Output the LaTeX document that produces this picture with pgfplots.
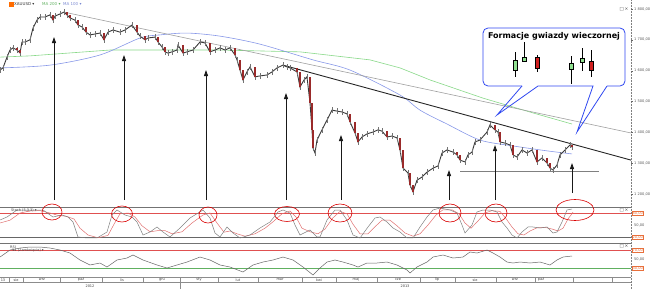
\documentclass[border=0pt]{standalone}
\usepackage{pgfplots}
\pgfplotsset{compat=1.18}
\usepackage{fontspec}
\setmainfont{DejaVu Sans}
\usetikzlibrary{arrows.meta}
\definecolor{pricec}{HTML}{3A3A3A}
\definecolor{maone}{HTML}{8898E8}
\definecolor{matwo}{HTML}{88D888}
\definecolor{trendg}{HTML}{A0A0A0}
\definecolor{stk}{HTML}{808080}
\definecolor{std}{HTML}{E07070}
\definecolor{lvlred}{HTML}{E05050}
\definecolor{lvlgreen}{HTML}{60B060}
\definecolor{boxc}{HTML}{E8703C}
\definecolor{callout}{HTML}{3048F0}
\definecolor{cgreen}{HTML}{90E090}
\definecolor{cred}{HTML}{D02020}
\definecolor{candred}{HTML}{9A2A2A}
\begin{document}
\begin{tikzpicture}
\useasboundingbox (0pt,0pt) rectangle (653pt,-289pt);
\pgfplotsset{every axis/.append style={scale only axis, width=631pt, xmin=0, xmax=631,
  anchor=north west, axis line style={draw=none}, xtick=\empty, ytick=\empty}}
% ---------------- price panel ----------------
\begin{axis}[at={(0pt,0pt)}, height=203pt, ymin=1170.87, ymax=1829.2]
% MA 200
\addplot[matwo, line width=0.6pt] coordinates {(0,1644) (30,1648) (110,1667) (220,1667) (300,1661) (370,1635) (400,1609) (430,1570) (483,1511) (533,1463) (572,1427)};
% MA 100
\addplot[maone, line width=0.6pt, smooth] coordinates {(0,1609) (50,1618) (100,1651) (140,1706) (160,1716) (187,1722) (220,1712) (260,1686) (313,1635) (350,1602) (400,1521) (420,1472) (447,1427) (480,1375) (513,1356) (547,1340) (572,1330)};
% trend lines
\addplot[trendg, line width=0.6pt] coordinates {(64,1790) (631,1398)};
\addplot[black!85, line width=0.9pt] coordinates {(283,1618) (631,1310)};
\addplot[black!50, line width=0.6pt] coordinates {(460,1275) (599,1275)};
% price (closes) with high-low wicks
\addplot[pricec, line width=0.9pt, error bars/.cd, y dir=both, y fixed=9,
  error mark=none, error bar style={black!55, line width=0.6pt}] coordinates {
(0,1602) (3,1609) (7,1644) (10,1667) (13,1674) (17,1667) (20,1657) (22,1693) (25,1693) (30,1700)
(33,1738) (37,1764) (40,1774) (45,1774) (50,1781) (53,1764) (55,1777) (60,1784) (64,1790) (67,1781)
(70,1771) (75,1764) (78,1748) (82,1742) (86,1725) (90,1716) (95,1719) (100,1722) (104,1700) (108,1725)
(113,1732) (120,1725) (125,1732) (132,1748) (137,1725) (140,1712) (145,1700) (148,1706) (155,1709) (158,1693)
(162,1677) (165,1661) (168,1657) (172,1661) (177,1667) (178,1683) (183,1657) (187,1661) (193,1667) (200,1693)
(205,1690) (210,1661) (215,1667) (220,1674) (225,1667) (230,1674) (235,1651) (237,1635) (240,1602) (243,1570)
(247,1596) (250,1612) (255,1580) (260,1583) (267,1586) (272,1596) (277,1609) (283,1618) (287,1612) (290,1609)
(297,1596) (300,1547) (304,1570) (307,1580) (310,1495) (312,1408) (313,1349) (315,1333) (317,1375) (322,1408)
(327,1440) (332,1472) (337,1469) (342,1466) (347,1460) (350,1434) (355,1398) (358,1369) (362,1385) (367,1395)
(373,1401) (378,1408) (382,1404) (387,1385) (392,1388) (397,1382) (400,1343) (403,1284) (408,1268) (410,1229)
(413,1207) (417,1245) (422,1255) (427,1271) (433,1284) (438,1291) (442,1333) (447,1343) (453,1336) (457,1327)
(460,1310) (465,1304) (468,1327) (472,1336) (475,1369) (480,1375) (487,1401) (490,1424) (495,1408) (498,1401)
(500,1369) (505,1365) (510,1359) (513,1327) (517,1320) (522,1343) (527,1333) (532,1343) (537,1304) (542,1317)
(547,1301) (550,1284) (553,1278) (557,1294) (560,1327) (565,1343) (570,1359) (572,1352)};
% down-candle bodies (open at previous close, close below it)
\addplot[draw=none, mark=none, error bars/.cd, y dir=plus, y explicit, error mark=none,
  error bar style={candred, line width=1.6pt}] coordinates {
(17,1667) +- (0,7) (20,1657) +- (0,10) (53,1764) +- (0,17) (67,1781) +- (0,9) (70,1771) +- (0,10)
(78,1748) +- (0,16) (86,1725) +- (0,17) (104,1700) +- (0,22) (137,1725) +- (0,23) (145,1700) +- (0,12)
(158,1693) +- (0,16) (165,1661) +- (0,16) (183,1657) +- (0,26) (210,1661) +- (0,29) (235,1651) +- (0,23)
(240,1602) +- (0,33) (243,1570) +- (0,32) (255,1580) +- (0,32) (297,1596) +- (0,13) (300,1547) +- (0,49)
(310,1495) +- (0,85) (312,1408) +- (0,87) (313,1349) +- (0,59) (350,1434) +- (0,26) (355,1398) +- (0,36)
(358,1369) +- (0,29) (387,1385) +- (0,19) (400,1343) +- (0,39) (403,1284) +- (0,59) (410,1229) +- (0,39)
(413,1207) +- (0,22) (457,1327) +- (0,9) (460,1310) +- (0,17) (495,1408) +- (0,16) (500,1369) +- (0,32)
(513,1327) +- (0,32) (537,1304) +- (0,39) (547,1301) +- (0,16) (550,1284) +- (0,17) (572,1352) +- (0,7)};
\end{axis}
% ---------------- stochastic panel ----------------
\begin{axis}[at={(0pt,-207pt)}, height=36pt, ymin=5, ymax=95]
\draw[lvlred, line width=0.6pt] (axis cs:0,80) -- (axis cs:631,80);
\draw[black!60, line width=0.6pt] (axis cs:0,20) -- (axis cs:631,20);
\addplot[std, line width=0.5pt] coordinates {
(0,55) (10,62) (20,80) (30,85) (40,86) (50,80) (58,74) (66,72) (74,65) (80,42) (88,25) (98,18) (108,24)
(114,52) (120,78) (128,80) (135,70) (142,48) (150,33) (158,36) (165,36) (172,28) (182,33) (192,55) (203,75)
(210,80) (217,55) (224,32) (230,35) (237,28) (245,22) (255,28) (265,42) (273,58) (282,78) (290,85) (296,70)
(302,42) (310,33) (318,28) (325,40) (333,68) (340,84) (347,78) (353,52) (360,28) (368,28) (376,48) (382,62)
(390,62) (397,48) (405,30) (413,22) (420,28) (428,50) (436,75) (443,88) (452,88) (459,78) (465,55) (471,42)
(478,60) (485,80) (492,86) (500,84) (506,66) (512,45) (518,28) (524,25) (530,35) (537,43) (545,44) (552,40)
(558,35) (563,42) (568,65) (573,82)};
\addplot[stk, line width=0.5pt] coordinates {
(0,62.5) (7,70) (17,87.5) (33,87.5) (43,87.5) (53,70) (62,75) (68,70) (73,57.5) (78,20) (87,17.5) (97,17.5)
(107,32.5) (112,75) (117,87.5) (125,75) (132,70) (137,57.5) (143,25) (150,32.5) (157,45) (163,32.5) (170,20)
(180,42.5) (190,67.5) (203,87.5) (210,67.5) (215,30) (220,20) (227,45) (233,30) (240,17.5) (250,25) (260,42.5)
(270,57.5) (278,82.5) (283,87.5) (290,80) (295,50) (300,25) (310,37.5) (317,20) (320,20) (327,62.5) (335,87.5)
(340,87.5) (347,62.5) (353,25) (360,17.5) (368,45) (375,67.5) (380,70) (387,57.5) (393,42.5) (400,32.5)
(407,17.5) (413,17.5) (420,45) (427,70) (433,87.5) (440,92.5) (450,87.5) (457,80) (462,50) (465,30) (472,50)
(477,82.5) (483,87.5) (490,87.5) (497,82.5) (502,57.5) (507,42.5) (512,25) (517,17.5) (522,32.5) (528,45)
(533,45) (540,42.5) (547,45) (553,30) (557,32.5) (562,57.5) (567,87.5) (572,90)};
\end{axis}
% ---------------- RSI panel ----------------
\begin{axis}[at={(0pt,-243pt)}, height=34pt, ymin=10, ymax=85.6]
\draw[lvlred, line width=0.6pt] (axis cs:0,70) -- (axis cs:631,70);
\draw[lvlgreen, line width=0.6pt] (axis cs:0,30) -- (axis cs:631,30);
\addplot[black!60, line width=0.5pt] coordinates {
(0,54.4) (10,70) (20,74.4) (30,76.7) (40,76.7) (50,74.4) (60,70) (70,63.3) (80,47.8) (90,36.7) (100,41.1)
(107,32.2) (117,47.8) (127,52.2) (133,58.9) (143,47.8) (157,36.7) (167,30) (177,36.7) (187,43.3) (200,54.4)
(210,47.8) (220,36.7) (230,32.2) (243,21.1) (253,36.7) (263,43.3) (273,47.8) (283,54.4) (293,47.8) (303,32.2)
(313,14.4) (320,30) (327,43.3) (335,47.8) (343,43.3) (353,36.7) (358,32.2) (367,41.1) (377,41.1) (387,43.3)
(397,36.7) (407,25.6) (410,18.9) (417,32.2) (427,43.3) (433,54.4) (443,58.9) (453,52.2) (463,54.4) (470,65.6)
(477,63.3) (487,70) (493,63.3) (500,54.4) (507,43.3) (513,41.1) (520,43.3) (530,41.1) (540,43.3) (550,36.7)
(557,47.8) (563,54.4) (572,56.7)};
\end{axis}
% ---------------- annotations ----------------
\begin{scope}[x=1pt,y=-1pt]
% frame lines
\draw[black!55, line width=0.7pt] (0,207) -- (631,207);
\draw[black!55, line width=0.7pt] (0,243.5) -- (631,243.5);
\draw[black!45, line width=0.4pt] (0,277) -- (631,277);
\draw[black!45, line width=0.4pt] (0,282.5) -- (631,282.5);
\draw[black!50, densely dotted, line width=0.5pt] (631,0) -- (631,289);
% price axis labels
\foreach \l/\y in {{1 800,00}/9.0,{1 700,00}/39.8,{1 600,00}/70.7,{1 500,00}/101.5,{1 400,00}/132.4,{1 300,00}/163.2,{1 200,00}/194.0}{
  \draw[black!60] (631,\y) -- (633,\y);
  \node[anchor=west, inner sep=0, text=black!65, font=\fontsize{3.6}{4}\selectfont] at (634,\y) {\l};}
% stoch / RSI labels
\node[anchor=west, draw=boxc, text=boxc, inner sep=0.5pt, font=\fontsize{3.6}{4}\selectfont] at (632,213) {80,00};
\node[anchor=west, inner sep=0, text=black!65, font=\fontsize{3.6}{4}\selectfont] at (634,225) {50,00};
\node[anchor=west, draw=boxc, text=boxc, inner sep=0.5pt, font=\fontsize{3.6}{4}\selectfont] at (632,237) {20,00};
\node[anchor=west, draw=boxc, text=boxc, inner sep=0.5pt, font=\fontsize{3.6}{4}\selectfont] at (632,250) {70,00};
\node[anchor=west, inner sep=0, text=black!65, font=\fontsize{3.6}{4}\selectfont] at (634,259) {50,00};
\node[anchor=west, draw=boxc, text=boxc, inner sep=0.5pt, font=\fontsize{3.6}{4}\selectfont] at (632,268) {30,00};
\foreach \y in {9,210,246}{\node[inner sep=0, text=black!70, font=\fontsize{4.5}{5}\selectfont] at (624,\y) {□\,×};}
% legend top-left
\fill[orange!85!red] (9,2) rectangle (13.5,6.5);
\node[anchor=west, inner sep=0, text=black!80, font=\fontsize{4}{5}\selectfont] at (14,4.3) {XAUUSD ▾};
\node[anchor=west, inner sep=0, text=lvlgreen, font=\fontsize{4}{5}\selectfont] at (42,4.3) {MA 200 ▾};
\node[anchor=west, inner sep=0, text=maone!90!black, font=\fontsize{4}{5}\selectfont] at (63,4.3) {MA 100 ▾};
\node[anchor=west, inner sep=0, text=black!75, font=\fontsize{3.5}{4}\selectfont] at (11,210.5) {Stoch (5,3,3) ▾};
\node[anchor=west, inner sep=0, text=black!75, font=\fontsize{3.5}{4}\selectfont] at (10,247) {RSI};
\node[anchor=west, inner sep=0, text=black!75, font=\fontsize{3.5}{4}\selectfont] at (12,251) {14 (Zamknięcie) ▾};
% date axis
\foreach \x in {9,23,60,102,143,218,258,302,336,377,420,455,496,535,573,612}{\draw[black!45, line width=0.4pt] (\x,277) -- (\x,282.5);}
\draw[black!45, line width=0.4pt] (180,277) -- (180,289);
\foreach \x/\m in {3/13,16/sie,42/wrz,81/paź,122/lis,162/gru,199/sty,238/lut,280/mar,319/kwi,356/maj,398/cze,437/lip,475/sie,515/wrz,541/paź}{
  \node[inner sep=0, text=black!75, font=\fontsize{3.5}{4}\selectfont] at (\x,279.8) {\m};}
\node[inner sep=0, text=black!75, font=\fontsize{3.5}{4}\selectfont] at (90,285.8) {2012};
\node[inner sep=0, text=black!75, font=\fontsize{3.5}{4}\selectfont] at (405,285.8) {2013};
% arrows
\foreach \x/\yb/\yt in {54/200/37,124/200/55,206/200/70,286/200/93,341/200/135,449/200/170,495/200/145,572/193/163}{
  \draw[black!90, line width=0.9pt, -{Triangle[length=6pt,width=4pt]}] (\x,\yb) -- (\x,\yt);}
% red ellipses
\foreach \x/\y/\rx/\ry in {52/212/10/8,122/214/10.5/8,208/215/9/8,287/214/12.5/7.5,340/213/12/9,450/213/11/9,496/213/11/9,575/210/19/10.5}{
  \draw[red!85!black, line width=0.6pt] (\x,\y) ellipse [x radius=\rx, y radius=\ry];}
% callout
\draw[callout, line width=0.8pt, rounded corners=5pt] (522,86) -- (483,86) -- (483,28) -- (625,28) -- (625,86) -- (607,86);
\draw[callout, line width=0.8pt] (607,86) -- (577,132) -- (593,86) -- (538,86) -- (497,115) -- (522,86);
\node[font=\bfseries\fontsize{8}{9}\selectfont] at (554,36.5) {Formacje gwiazdy wieczornej};
% candle icons
\foreach \x/\wt/\wb/\bt/\bb/\c in {515/52/77/60/70/cgreen,524/42/62/57/61/cgreen,537/55/72/57/68/cred,571/56/84/63/69/cgreen,582/48/71/58/62/cgreen,591/50/77/61/70/cred}{
  \draw[black, line width=0.8pt] (\x,\wt) -- (\x,\wb);
  \filldraw[fill=\c, draw=black, line width=0.5pt] (\x-2.2,\bt) rectangle (\x+2.2,\bb);}
\end{scope}
\end{tikzpicture}
\end{document}
